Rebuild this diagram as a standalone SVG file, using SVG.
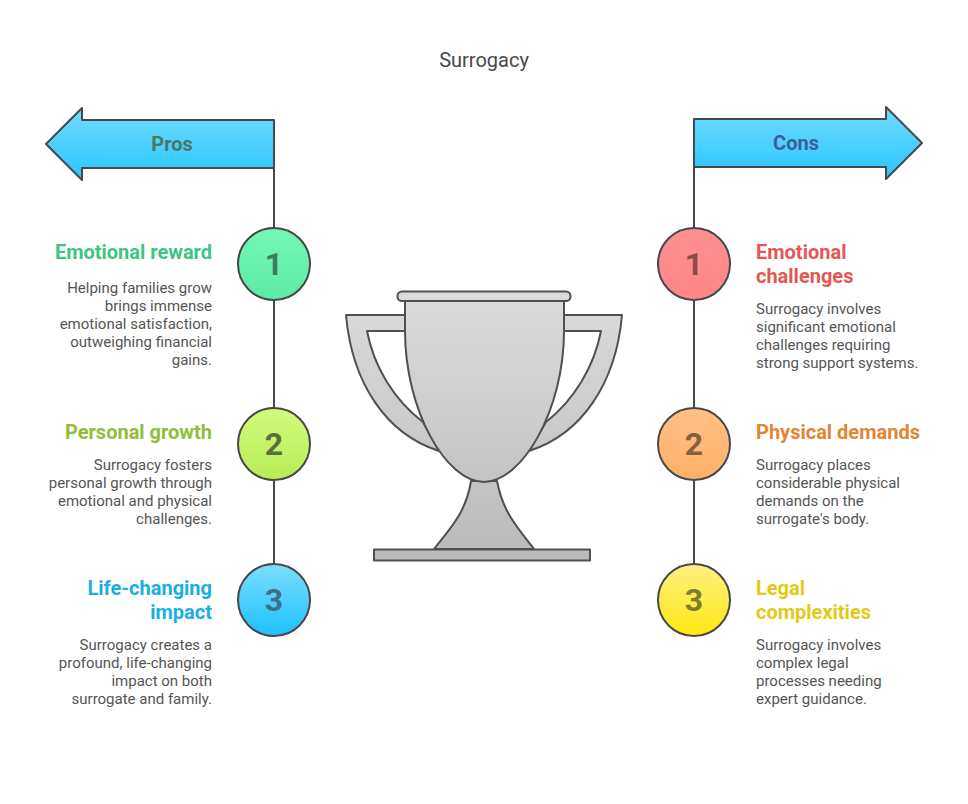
<svg xmlns="http://www.w3.org/2000/svg" width="968" height="804" viewBox="0 0 968 804">
<style>
text{font-family:Roboto,"Liberation Sans",sans-serif}
.t{font-size:20px;fill:#484848;text-anchor:middle}
.h{font-size:20px;font-weight:700}
.b{font-size:15px;fill:#555}
.l{text-anchor:end}
.n{font-size:32px;font-weight:700;text-anchor:middle}
.a{font-size:20px;font-weight:700;text-anchor:middle}
.s{stroke:#484848;stroke-width:2;stroke-linejoin:round}
.c{fill:none;stroke:#484848;stroke-width:2}
.tr{fill:url(#gt);stroke:#505050;stroke-width:2;stroke-linejoin:round}
</style>
<defs>
<linearGradient id="gb" x1="0" y1="0" x2="0" y2="1"><stop offset="0" stop-color="#72dbff"/><stop offset="1" stop-color="#28c6ff"/></linearGradient>
<linearGradient id="g1" x1="0" y1="0" x2="0" y2="1"><stop offset="0" stop-color="#74f7b6"/><stop offset="1" stop-color="#5ceaa8"/></linearGradient>
<linearGradient id="g2" x1="0" y1="0" x2="0" y2="1"><stop offset="0" stop-color="#d2fb7c"/><stop offset="1" stop-color="#b8ec56"/></linearGradient>
<linearGradient id="g3" x1="0" y1="0" x2="0" y2="1"><stop offset="0" stop-color="#7cdeff"/><stop offset="1" stop-color="#1cc1ff"/></linearGradient>
<linearGradient id="g4" x1="0" y1="0" x2="0" y2="1"><stop offset="0" stop-color="#ff9090"/><stop offset="1" stop-color="#ff8686"/></linearGradient>
<linearGradient id="g5" x1="0" y1="0" x2="0" y2="1"><stop offset="0" stop-color="#ffc088"/><stop offset="1" stop-color="#ffb068"/></linearGradient>
<linearGradient id="g6" x1="0" y1="0" x2="0" y2="1"><stop offset="0" stop-color="#fff085"/><stop offset="1" stop-color="#ffe80f"/></linearGradient>
<linearGradient id="gt" gradientUnits="userSpaceOnUse" x1="0" y1="291" x2="0" y2="560"><stop offset="0" stop-color="#dcdcdc"/><stop offset="1" stop-color="#bababa"/></linearGradient>
</defs>
<text class="t" x="484" y="67">Surrogacy</text>
<g id="connectors">
<path class="c" d="M274 168V228M274 300V408M274 480V564"/>
<path class="c" d="M694 167V228M694 300V408M694 480V564"/>
</g>
<g id="pros-arrow">
<path class="s" fill="url(#gb)" d="M46 144L82 108V120H274V168H82V180Z"/>
<text class="a" x="172" y="151" fill="#487a68">Pros</text>
</g>
<g id="cons-arrow">
<path class="s" fill="url(#gb)" d="M694 119H886V107L922 143L886 179V167H694Z"/>
<text class="a" x="796" y="150" fill="#3d6096">Cons</text>
</g>
<g id="trophy">
<path class="tr" d="M346 315H405V331H367C374 367 394 400 423 422L439 451C386 434 352 383 346 315Z"/>
<path class="tr" d="M622 315H564V331H601C594 367 574 400 546 422L529 451C582 434 616 383 622 315Z"/>
<path class="tr" d="M471 481C466 512 452 526 434 549H534C516 526 503 512 497 481Z"/>
<path class="tr" d="M405 301H564V331C564 410 522 482 484 482C446 482 405 410 405 331Z"/>
<rect class="tr" x="397.500" y="291.500" width="173" height="9.500" rx="4.500"/>
<rect class="tr" x="374" y="549.500" width="216" height="11"/>
</g>
<g id="pro-1">
<circle class="s" cx="274" cy="264" r="36" fill="url(#g1)"/>
<text class="n" x="274" y="275" fill="#44795f">1</text>
<text class="h l" x="212" y="259" fill="#3cc583">Emotional reward</text>
<text class="b l" x="212" y="293">Helping families grow</text>
<text class="b l" x="212" y="311">brings immense</text>
<text class="b l" x="212" y="329">emotional satisfaction,</text>
<text class="b l" x="212" y="347">outweighing financial</text>
<text class="b l" x="212" y="365">gains.</text>
</g>
<g id="pro-2">
<circle class="s" cx="274" cy="444" r="36" fill="url(#g2)"/>
<text class="n" x="274" y="455" fill="#5c6e3c">2</text>
<text class="h l" x="212" y="439" fill="#92bd39">Personal growth</text>
<text class="b l" x="212" y="470">Surrogacy fosters</text>
<text class="b l" x="212" y="488">personal growth through</text>
<text class="b l" x="212" y="506">emotional and physical</text>
<text class="b l" x="212" y="524">challenges.</text>
</g>
<g id="pro-3">
<circle class="s" cx="274" cy="600" r="36" fill="url(#g3)"/>
<text class="n" x="274" y="611" fill="#3d7088">3</text>
<text class="h l" x="212" y="595" fill="#1aaee5">Life-changing</text>
<text class="h l" x="212" y="619" fill="#1aaee5">impact</text>
<text class="b l" x="212" y="650">Surrogacy creates a</text>
<text class="b l" x="212" y="668">profound, life-changing</text>
<text class="b l" x="212" y="686">impact on both</text>
<text class="b l" x="212" y="704">surrogate and family.</text>
</g>
<g id="con-1">
<circle class="s" cx="694" cy="264" r="36" fill="url(#g4)"/>
<text class="n" x="694" y="275" fill="#8f4a4a">1</text>
<text class="h" x="756" y="259" fill="#e55753">Emotional</text>
<text class="h" x="756" y="283" fill="#e55753">challenges</text>
<text class="b" x="756" y="314">Surrogacy involves</text>
<text class="b" x="756" y="332">significant emotional</text>
<text class="b" x="756" y="350">challenges requiring</text>
<text class="b" x="756" y="368">strong support systems.</text>
</g>
<g id="con-2">
<circle class="s" cx="694" cy="444" r="36" fill="url(#g5)"/>
<text class="n" x="694" y="455" fill="#85603f">2</text>
<text class="h" x="756" y="439" fill="#e18731">Physical demands</text>
<text class="b" x="756" y="470">Surrogacy places</text>
<text class="b" x="756" y="488">considerable physical</text>
<text class="b" x="756" y="506">demands on the</text>
<text class="b" x="756" y="524">surrogate's body.</text>
</g>
<g id="con-3">
<circle class="s" cx="694" cy="600" r="36" fill="url(#g6)"/>
<text class="n" x="694" y="611" fill="#807a30">3</text>
<text class="h" x="756" y="595" fill="#e0cb15">Legal</text>
<text class="h" x="756" y="619" fill="#e0cb15">complexities</text>
<text class="b" x="756" y="650">Surrogacy involves</text>
<text class="b" x="756" y="668">complex legal</text>
<text class="b" x="756" y="686">processes needing</text>
<text class="b" x="756" y="704">expert guidance.</text>
</g>
</svg>
